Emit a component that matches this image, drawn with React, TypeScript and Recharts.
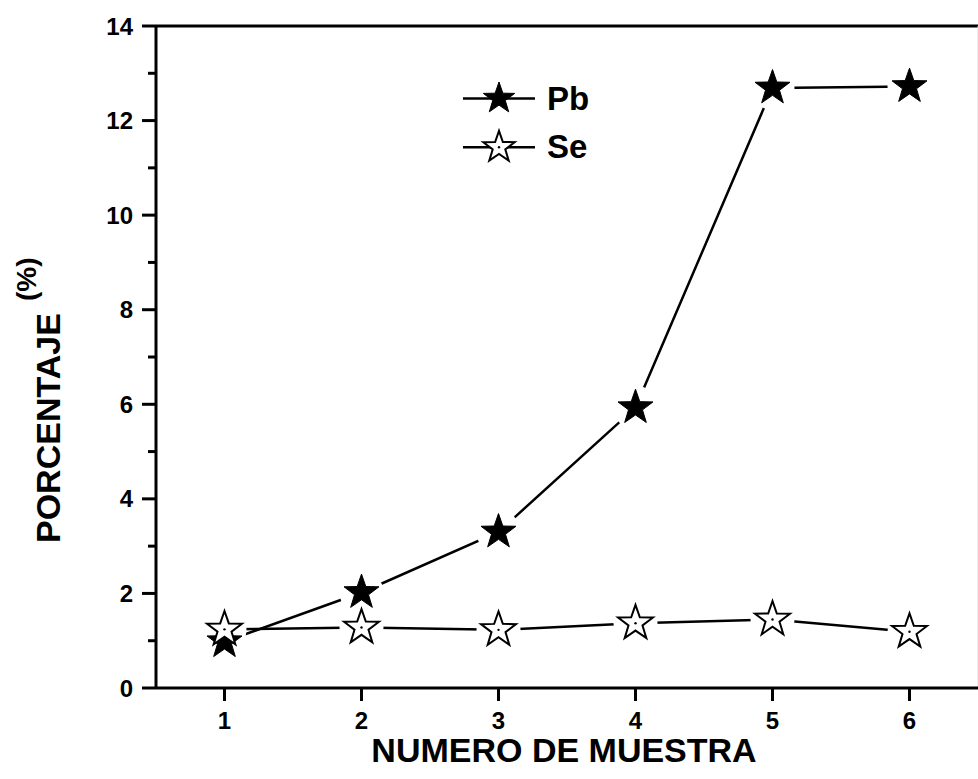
import { LineChart, Line, XAxis, YAxis, ReferenceLine, Legend } from "recharts";

// sample numbers and measured percentages
const samples = [1, 2, 3, 4, 5, 6];
const pb = [0.98, 2.02, 3.3, 5.93, 12.69, 12.72];
const se = [1.24, 1.28, 1.23, 1.37, 1.45, 1.19];
const yTicks = [0, 1, 2, 3, 4, 5, 6, 7, 8, 9, 10, 11, 12, 13, 14];

const data = samples.map((s, i) => ({ x: s, Pb: pb[i], Se: se[i] }));

const FONT = "'Liberation Sans', Arial, sans-serif";

function starPoints(cx: number, cy: number, r: number, ratio = 0.4) {
  const pts: string[] = [];
  for (let i = 0; i < 10; i++) {
    const a = ((-90 + i * 36) * Math.PI) / 180;
    const rr = i % 2 === 0 ? r : r * ratio;
    pts.push(`${cx + rr * Math.cos(a)},${cy + rr * Math.sin(a)}`);
  }
  return pts.join(" ");
}

function Star({ cx, cy, r, filled }: { cx: number; cy: number; r: number; filled: boolean }) {
  return (
    <g>
      <polygon
        points={starPoints(cx, cy, r)}
        fill={filled ? "#000" : "#fff"}
        stroke="#000"
        strokeWidth={filled ? 1 : 2}
      />
      {!filled && <circle cx={cx} cy={cy} r={1.2} fill="#000" />}
    </g>
  );
}

// white gap around markers, drawn with each line
const haloDot = (props: any) => {
  const { cx, cy, index } = props;
  if (cx == null || cy == null) return <g key={index} />;
  return <circle key={index} cx={cx} cy={cy} r={22} fill="#fff" />;
};

// markers, drawn after every line and halo
const starDot = (filled: boolean) => (props: any) => {
  const { cx, cy, index } = props;
  if (cx == null || cy == null) return <g key={index} />;
  return (
    <g key={index}>
      <Star cx={cx} cy={cy} r={18.4} filled={filled} />
    </g>
  );
};

function YTick({ x, y, payload }: any) {
  const major = payload.value % 2 === 0;
  return (
    <g>
      <line x1={x - (major ? 14 : 8)} x2={x} y1={y} y2={y} stroke="#000" strokeWidth={3} />
      {major && (
        <text
          x={x - 23}
          y={y + 8.5}
          textAnchor="end"
          fontFamily={FONT}
          fontWeight="bold"
          fontSize={24}
          fill="#000"
        >
          {payload.value}
        </text>
      )}
    </g>
  );
}

function LegendBox({ payload }: any) {
  const rows = (payload || []).filter((p: any) => p.value === "Pb" || p.value === "Se");
  return (
    <svg width={170} height={90}>
      {rows.map((p: any, i: number) => {
        const y = i === 0 ? 20.5 : 69.3;
        return (
          <g key={p.value}>
            <line x1={3} x2={75} y1={y} y2={y} stroke="#000" strokeWidth={2.5} />
            <Star cx={39} cy={y} r={16.5} filled={p.value === "Pb"} />
            <text
              x={87}
              y={y + 11}
              fontFamily={FONT}
              fontWeight="bold"
              fontSize={33}
              fill="#000"
            >
              {p.value}
            </text>
          </g>
        );
      })}
    </svg>
  );
}

export default function App() {
  return (
    <div style={{ position: "absolute", left: 0, top: 0, background: "#fff" }}>
      <LineChart
        width={978}
        height={779}
        data={data}
        margin={{ top: 26, right: 0, bottom: 41, left: 96 }}
      >
        <XAxis
          dataKey="x"
          type="number"
          domain={[0.5, 6.5]}
          ticks={samples}
          height={50}
          axisLine={{ stroke: "#000", strokeWidth: 3 }}
          tickLine={{ stroke: "#000", strokeWidth: 3 }}
          tickSize={13}
          tickMargin={11}
          tick={{ fontFamily: FONT, fontWeight: "bold", fontSize: 24, fill: "#000" }}
          label={{
            content: () => (
              <text
                x={564}
                y={762}
                textAnchor="middle"
                fontFamily={FONT}
                fontWeight="bold"
                fontSize={34}
                fill="#000"
              >
                NUMERO DE MUESTRA
              </text>
            ),
          }}
        />
        <YAxis
          type="number"
          domain={[0, 14]}
          ticks={yTicks}
          interval={0}
          width={60}
          axisLine={{ stroke: "#000", strokeWidth: 3 }}
          tickLine={false}
          tickSize={0}
          tickMargin={0}
          tick={<YTick />}
          label={{
            content: () => (
              <g fontFamily={FONT} fontWeight="bold" fill="#000">
                <text x={60} y={543} fontSize={34} transform="rotate(-90 60 543)">
                  PORCENTAJE
                </text>
                <text x={36} y={301} fontSize={28} transform="rotate(-90 36 301)">
                  (%)
                </text>
              </g>
            ),
          }}
        />
        <ReferenceLine y={14} stroke="#000" strokeWidth={3} />
        <ReferenceLine x={6.5} stroke="#ddd" strokeWidth={1} />
        <Legend
          layout="vertical"
          align="center"
          verticalAlign="middle"
          wrapperStyle={{ left: 460, top: 78, width: 170 }}
          content={<LegendBox />}
        />
        <Line
          dataKey="Pb"
          name="Pb"
          stroke="#000"
          strokeWidth={2.5}
          dot={haloDot}
          activeDot={false}
          isAnimationActive={false}
        />
        <Line
          dataKey="Se"
          name="Se"
          stroke="#000"
          strokeWidth={2.5}
          dot={haloDot}
          activeDot={false}
          isAnimationActive={false}
        />
        <Line
          dataKey="Pb"
          name="Pb-marker"
          stroke="none"
          legendType="none"
          dot={starDot(true)}
          activeDot={false}
          isAnimationActive={false}
        />
        <Line
          dataKey="Se"
          name="Se-marker"
          stroke="none"
          legendType="none"
          dot={starDot(false)}
          activeDot={false}
          isAnimationActive={false}
        />
      </LineChart>
    </div>
  );
}
